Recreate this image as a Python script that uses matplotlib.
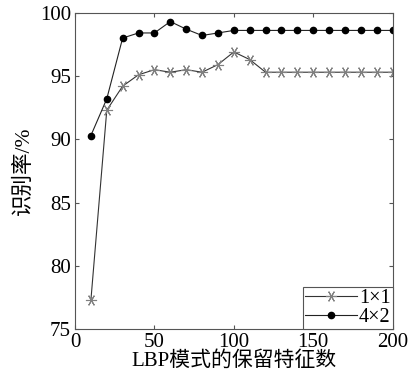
import matplotlib.pyplot as plt

plt.rcParams['font.family'] = ['Liberation Serif', 'Noto Sans CJK SC']
plt.rcParams['mathtext.fontset'] = 'stix'

# number of kept LBP features
features = [10, 20, 30, 40, 50, 60, 70, 80, 90, 100,
            110, 120, 130, 140, 150, 160, 170, 180, 190, 200]
# recognition rate (%)
rate_1x1 = [77.3, 92.3, 94.2, 95.1, 95.5, 95.3, 95.5, 95.3, 95.9, 96.9,
            96.3, 95.3, 95.3, 95.3, 95.3, 95.3, 95.3, 95.3, 95.3, 95.3]
rate_4x2 = [90.3, 93.2, 98.0, 98.4, 98.4, 99.3, 98.7, 98.2, 98.4, 98.6,
            98.6, 98.6, 98.6, 98.6, 98.6, 98.6, 98.6, 98.6, 98.6, 98.6]
labels = ['1×1', '4×2']

fig = plt.figure(figsize=(4.09, 3.80), dpi=100)
ax = fig.add_axes([0.1834, 0.1334, 0.7766, 0.8332])

ax.plot(features, rate_1x1, color='#333333', lw=0.8, marker=(6, 2, 90),
        ms=8, mec='#808080', mew=0.8, label=labels[0])
ax.plot(features, rate_4x2, color='#222222', lw=0.8, marker='o',
        ms=4.5, mfc='black', mec='black', label=labels[1])

ax.set_xlim(0, 200)
ax.set_ylim(75, 100)
ax.set_xticks([0, 50, 100, 150, 200])
ax.set_yticks([75, 80, 85, 90, 95, 100])
ax.tick_params(direction='in', length=3, top=True, right=True,
               labelsize=15, color='#555555', pad=3)
for s in ax.spines.values():
    s.set_color('#555555')
    s.set_linewidth(0.8)

ax.set_xlabel('LBP模式的保留特征数', fontsize=15, labelpad=-1)
ax.set_ylabel('识别率/%', fontsize=15.5, labelpad=4)

leg = ax.legend(loc='lower right', borderaxespad=0, fontsize=14.5,
                fancybox=False, handlelength=2.6, handletextpad=0.1,
                labelspacing=0.0, borderpad=0.1, framealpha=1)
leg.get_frame().set_edgecolor('#555555')
leg.get_frame().set_linewidth(0.8)

plt.savefig('out.png', dpi=100)
